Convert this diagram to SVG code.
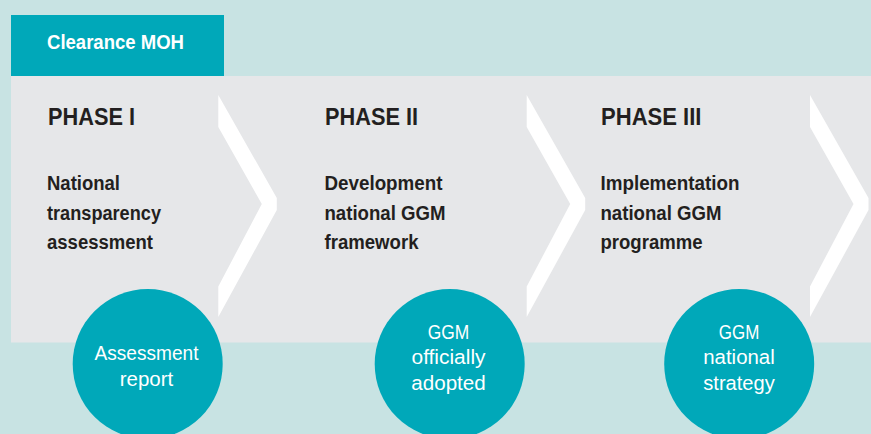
<svg xmlns="http://www.w3.org/2000/svg" width="871" height="434" viewBox="0 0 871 434">
  <defs>
    <style>
      .bg { fill: #c8e3e3; }
      .band { fill: #e6e7e9; }
      .teal { fill: #00a8b9; }
      .chev { fill: #ffffff; }
      .phase { font-family: "Liberation Sans", Arial, sans-serif; font-weight: bold; font-size: 24px; fill: #231f20; }
      .body { font-family: "Liberation Sans", Arial, sans-serif; font-weight: bold; font-size: 19.5px; fill: #231f20; }
      .tab { font-family: "Liberation Sans", Arial, sans-serif; font-weight: bold; font-size: 21px; fill: #ffffff; }
      .ctext { font-family: "Liberation Sans", Arial, sans-serif; font-size: 20.5px; fill: #ffffff; text-anchor: middle; }
    </style>
    <polygon id="chevron" points="0,0 58.5,103 58.5,115 0,222 0,191.5 43.5,109 0,32"/>
  </defs>

  <rect class="bg" x="0" y="0" width="871" height="434"/>
  <rect class="band" x="11" y="76" width="860" height="266.5"/>

  <g id="tab">
    <rect class="teal" x="11" y="15" width="213" height="61"/>
    <text class="tab" x="47" y="48.5" textLength="137" lengthAdjust="spacingAndGlyphs">Clearance MOH</text>
  </g>

  <g id="chevrons">
    <use href="#chevron" class="chev" x="218.3" y="95"/>
    <use href="#chevron" class="chev" x="526.7" y="95"/>
    <use href="#chevron" class="chev" x="810" y="95"/>
  </g>

  <g id="phase1">
    <text class="phase" x="48" y="125" textLength="87" lengthAdjust="spacingAndGlyphs">PHASE I</text>
    <text class="body" x="47" y="190" textLength="73" lengthAdjust="spacingAndGlyphs">National</text>
    <text class="body" x="47" y="219.5" textLength="114" lengthAdjust="spacingAndGlyphs">transparency</text>
    <text class="body" x="47" y="249" textLength="106" lengthAdjust="spacingAndGlyphs">assessment</text>
  </g>

  <g id="phase2">
    <text class="phase" x="325" y="125" textLength="93" lengthAdjust="spacingAndGlyphs">PHASE II</text>
    <text class="body" x="324.5" y="190" textLength="118" lengthAdjust="spacingAndGlyphs">Development</text>
    <text class="body" x="324.5" y="219.5" textLength="121" lengthAdjust="spacingAndGlyphs">national GGM</text>
    <text class="body" x="324.5" y="249" textLength="94" lengthAdjust="spacingAndGlyphs">framework</text>
  </g>

  <g id="phase3">
    <text class="phase" x="601" y="125" textLength="100.5" lengthAdjust="spacingAndGlyphs">PHASE III</text>
    <text class="body" x="600.5" y="190" textLength="139" lengthAdjust="spacingAndGlyphs">Implementation</text>
    <text class="body" x="600.5" y="219.5" textLength="121" lengthAdjust="spacingAndGlyphs">national GGM</text>
    <text class="body" x="600.5" y="249" textLength="102" lengthAdjust="spacingAndGlyphs">programme</text>
  </g>

  <g id="result1">
    <circle class="teal" cx="147.7" cy="364" r="75"/>
    <text class="ctext" x="146.5" y="360" textLength="104" lengthAdjust="spacingAndGlyphs">Assessment</text>
    <text class="ctext" x="146.5" y="385.5">report</text>
  </g>

  <g id="result2">
    <circle class="teal" cx="449.7" cy="364" r="75"/>
    <text class="ctext" x="448.5" y="338.5" textLength="41.5" lengthAdjust="spacingAndGlyphs">GGM</text>
    <text class="ctext" x="448.5" y="364" textLength="74" lengthAdjust="spacingAndGlyphs">officially</text>
    <text class="ctext" x="448.5" y="389.5" textLength="74.5" lengthAdjust="spacingAndGlyphs">adopted</text>
  </g>

  <g id="result3">
    <circle class="teal" cx="739.2" cy="364" r="75"/>
    <text class="ctext" x="739" y="338.5" textLength="40.5" lengthAdjust="spacingAndGlyphs">GGM</text>
    <text class="ctext" x="739" y="364" textLength="71.5" lengthAdjust="spacingAndGlyphs">national</text>
    <text class="ctext" x="739" y="389.5" textLength="71.5" lengthAdjust="spacingAndGlyphs">strategy</text>
  </g>
</svg>
